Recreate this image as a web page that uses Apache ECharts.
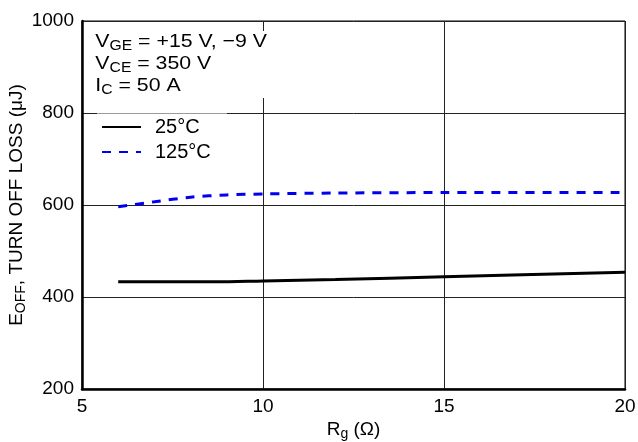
<!DOCTYPE html>
<html><head><meta charset="utf-8">
<script src="https://cdn.jsdelivr.net/npm/echarts@6/dist/echarts.min.js"></script>
<style>html,body{margin:0;padding:0;background:#fff}#c{width:638px;height:442px}</style>
</head><body><div id="c"></div>
<script>
const xTicks = [5, 10, 15, 20];
const yTicks = [200, 400, 600, 800, 1000];
const rg25 = [6, 8.7, 10, 12, 15, 20];
const e25 = [433, 433, 435, 438, 444, 454];
const rg125 = [6, 7, 8, 9, 10, 12, 15, 20];
const e125 = [596, 607, 617, 622, 624, 626, 627, 627];
const seriesNames = ['25°C', '125°C'];

const FONT = 'Liberation Sans, Arial, Helvetica, sans-serif';
const FS = 19;
const chart = echarts.init(document.getElementById('c'), null, {renderer: 'canvas'});
const zip = (a, b) => a.map((v, i) => [v, b[i]]);
chart.setOption({
  animation: false,
  backgroundColor: '#fff',
  grid: {left: 82, right: 13, top: 21, bottom: 53, show: true, borderColor: '#000', borderWidth: 1,
    backgroundColor: 'transparent', containLabel: false, outerBoundsMode: 'none'},
  xAxis: {
    type: 'value', min: xTicks[0], max: xTicks[xTicks.length - 1], interval: 5,
    axisLine: {show: true, lineStyle: {color: '#000', width: 2.5}},
    axisTick: {show: false},
    axisLabel: {color: '#000', fontSize: FS, fontFamily: FONT, margin: 8, formatter: v => String(v)},
    splitLine: {show: true, lineStyle: {color: '#222', width: 1}},
    name: 'R{sub|g} (Ω)', nameLocation: 'middle', nameGap: 29, nameMoveOverlap: false,
    nameTextStyle: {color: '#000', fontSize: FS, fontFamily: FONT, rich: {sub: {fontSize: 14, fontFamily: FONT, color: '#000', padding: [9, 0, 0, 0]}}}
  },
  yAxis: {
    type: 'value', min: yTicks[0], max: yTicks[yTicks.length - 1], interval: 200,
    axisLine: {show: true, lineStyle: {color: '#000', width: 2.5}},
    axisTick: {show: false},
    axisLabel: {color: '#000', fontSize: FS, fontFamily: FONT, margin: 8, formatter: v => String(v)},
    splitLine: {show: true, lineStyle: {color: '#222', width: 1}},
    name: 'E{sub|OFF}, TURN OFF LOSS (μJ)', nameLocation: 'middle', nameGap: 54, nameRotate: 90, nameMoveOverlap: false,
    nameTextStyle: {color: '#000', fontSize: FS, fontFamily: FONT,
      rich: {sub: {fontSize: 14, fontFamily: FONT, color: '#000', padding: [9, 0, 0, 0]}}}
  },
  legend: {
    orient: 'vertical', left: 101, top: 117, padding: 0, itemWidth: 39, itemHeight: 14, itemGap: 5,
    data: seriesNames,
    itemStyle: {opacity: 0},
    textStyle: {color: '#000', fontSize: 20, lineHeight: 20, fontFamily: FONT, padding: [0, 0, 0, 9]}
  },
  graphic: [
    {type: 'rect', left: 97, top: 112, shape: {width: 130, height: 3}, style: {fill: 'rgba(255,255,255,0.55)'}, z: 50},
    {type: 'text', x: 92, y: 31, scaleX: 1.12, z: 60,
      style: {
        text: 'V{s|GE} = +15 V, −9 V\nV{s|CE} = 350 V\nI{s|C} = 50 A',
        fill: '#000', font: FS + 'px ' + FONT, lineHeight: 22,
        backgroundColor: '#fff', padding: [0, 3, 1, 3],
        rich: {s: {fontSize: 14, fontFamily: FONT, fill: '#000', padding: [9, 0, 0, 0], lineHeight: 22}}
      }}
  ],
  series: [
    {name: seriesNames[0], type: 'line', data: zip(rg25, e25), showSymbol: false, symbol: 'none', smooth: 0.3,
      lineStyle: {color: '#000', width: 3}, itemStyle: {color: '#000'}, z: 5},
    {name: seriesNames[1], type: 'line', data: zip(rg125, e125), showSymbol: false, symbol: 'none', smooth: 0.3,
      lineStyle: {color: '#0000ee', width: 3, type: [9, 8]}, itemStyle: {color: '#0000ee'}, z: 5}
  ]
});
</script></body></html>
